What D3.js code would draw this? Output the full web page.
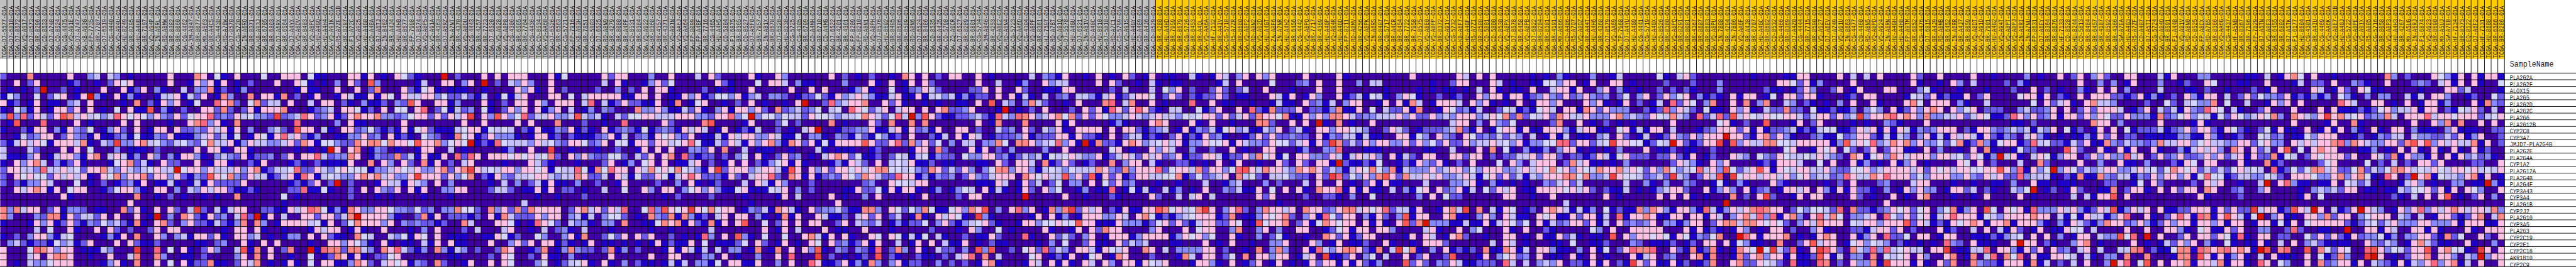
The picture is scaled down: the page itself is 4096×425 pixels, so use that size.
<!DOCTYPE html>
<html><head><meta charset="utf-8">
<script src="https://cdn.jsdelivr.net/npm/d3@7"></script>
<style>html,body{margin:0;padding:0;background:#fff;overflow:hidden}svg{display:block}</style>
</head><body><div id="chart"></div>
<script>
const geneNames=["PLA2G2A","PLA2G2F","ALOX15","PLA2G5","PLA2G2D","PLA2G2C","PLA2G6","PLA2G12B","CYP2C8","CYP3A7","JMJD7-PLA2G4B","PLA2G2E","PLA2G4A","CYP1A2","PLA2G12A","PLA2G4B","PLA2G4F","CYP3A43","CYP3A4","PLA2G1B","CYP2J2","PLA2G10","CYP3A5","PLA2G3","CYP2C19","CYP2E1","CYP2C18","AKR1B10","CYP2C9"];
const samplesA=["D7-5577","D7-6818","D7-8572","VQ-A917","D7-8573","BR-8296","CD-8533","D7-A748","CD-8524","CG-4475","VQ-A91E","D7-A747","KB-A93G","FP-7735","BR-7707","D7-6519","CG-4440","VQ-A94U","HU-8249","BR-8295","HU-A4HB","BR-7197","VQ-A94P","IN-A6RL","RD-A8MW"];
const samplesB=["BR-8382","BR-8060","CG-4462","3M-AB47","BR-8077","MX-A663","BR-A4CS","CG-4438","RD-A7BW","D7-8570","CG-5720","IN-A6RO","BR-8371","KB-A93J","BR-6705","BR-6803","D7-A6RX","BR-6564","D7-A4YX","VQ-A8DV","BR-8483","VQ-A8PC","HU-A4GQ","HU-A4H4","VQ-A91K","R5-A7ZE-01B","BR-8297","F1-A72C","VQ-A925","HU-A4G8","CD-A48A","B7-A5TJ","IN-8462","BR-A4J4","HU-A4H0","BR-8677","FP-7998","D7-8574","VQ-A8P5","VQ-A91A","BR-4363","D7-A6RZ","IN-A7NT","BR-4370","VQ-A8DU","CG-4443","BR-4257","BR-7723","D7-6520","VQ-A928"];
const samplesC=["VQ-A8P8","CG-4306","BR-6565","BR-7704","CG-4436","CD-8534","VQ-AA68","D7-6526","BR-6563","CG-5721","FP-7916","KB-A93H","BR-7851","CD-5803","D7-6525","RD-A8N9","BR-4279","BR-8080","BR-A4PF","CD-8531","BR-8384","VQ-A922","BR-8368","BR-4357","BR-4371","VQ-A91N","VQ-AA6J","VQ-AA64","FP-8099","FP-A4BF","BR-7716","CG-4465","HU-A4H5","CD-5804","F1-6875","BR-8365","CD-8527","D7-A6F0","BR-7957","IN-AB1X","BR-8678","D7-6528","HU-8238","CG-5725","CG-4305","BR-6709","CD-A4MH","BR-6710","CD-A4MG","D7-6522"];
const samplesD=["BR-4201","BR-4361","FP-8209","FP-8210","RD-A8N1","VQ-A8PH","D7-8576","HU-8602","BR-8485","BR-8686","BR-8589","RD-A8N6","D7-6524","BR-8486","CD-8535","BR-A4J5","CD-5798","ZQ-A9CR","D7-6527","BR-8289","BR-6801","CG-5734","3M-AB46","BR-4253","VQ-A8E2","RD-A8N4","CG-5723","VQ-AA6D","CG-4304","VQ-A8PF","BR-8361","HJ-7597","RD-A7BT","VQ-A91Q","D7-5578","HU-A4GU","D7-6521","IN-AB1V","CD-A48C","HU-8610","B7-5818","RD-A7C1","CD-5799","VQ-A91S","HU-A4GY","CD-A489","BR-A4J6","CD-8529","BR-4280","HU-A4HD"];
const samplesE=["BR-7959","BR-8679","CG-5726","BR-6453","BR-A4QL","VQ-AA6A","HF-7132","BR-A4IV","CG-5718","R5-A7ZR","BR-8680","VQ-A8P2","RD-A8N2","VQ-A92D","HU-A4GT","ZA-A8F6","IN-A7NR","HU-A4H2","BR-6456","CG-4442","VQ-A8PO","BR-7717","BR-4369","HU-A4GP","VQ-A94R","HU-A4GD","FP-8211","RD-A8MV","BR-4256","VQ-A8PK","IN-A6RS","BR-8487","CG-5717","BR-A4CR","BR-6454","BR-7722","BR-7958","D7-8575","VQ-A8E0","VQ-A8PP","BR-8372","VQ-A91Y","CG-5732","KB-A6F7","HU-A4GF","R5-A7ZI","BR-8588","CD-5801","CD-5800","CD-8530"];
const samplesF=["VQ-A8PX","D7-8578","BR-6458","VQ-A8PB","D7-6822","BR-8284","BR-8381","BR-4191","MX-A666","CD-A486","R5-A7O7","VQ-A8DZ","BR-A44T","HU-A4H6","BR-4368","D7-8579","VQ-AA69","TP-7968","D7-A4YU","HU-A4G9","CG-4441","CG-5719","HU-A4GX","CD-8526","BR-8380","VQ-A8PQ","BR-8291","BR-8081","BR-4367","BR-8687","BR-8683","VQ-A8PU","IN-7808","BR-4294","IN-7806","VQ-AA6F","BR-A4J8","BR-6707","HU-A4GC","BR-8682","CD-8532","CG-4466","BR-8369","D7-A4Z0","CG-4444","BR-7715","BR-8590","VQ-A927","D7-A6EV","D7-A749"];
const samplesG=["VQ-A91U","IN-8663","CG-4477","CG-4460","RD-A8N5","VQ-A8PD","VQ-A924","IN-A6RN","HU-A4GH","HU-A4H8","FP-A9TM","BR-6852","CG-4476","D7-6815","BR-A4J9","RD-A8MB","BR-6452","IN-A6RR","BR-A4J7","BR-8059","VQ-A8DT","VQ-A91D","BR-7901","HU-A4G2","VQ-A94T","VQ-A8PT","VQ-A8PJ","IN-A6RI","IN-A7NU","FP-8631","D7-A6EY","BR-8364","BR-8676","HF-7133","CD-8528","HU-8244","CD-5813","BR-8484","BR-6457","BR-4187","BR-8592","BR-4366","SW-A7EA","HU-A4G3","R5-A7ZF","CD-A487","B7-A5TI","CG-5724","VQ-A94O","BR-8591"];
const samplesH=["F1-A448","VQ-A91V","RD-A8N0","CD-8525","FP-A8CX","RD-A7BS","BR-8366","VQ-AA6G","CG-4437","HF-A5NB","BR-8367","BR-7196","FP-7829","B7-A5TN","VQ-A8E3","BR-6455","BR-6802","B7-A5TK","F1-6177","HU-8604","CG-4301","BR-A4IU","CG-4469","VQ-AA6K","VQ-A8E7-01B","HU-A4GJ","CG-5722","VQ-A8PE","VQ-A91X","R5-A805","CG-5716","BR-8058","VQ-A8P3","HU-A4H3","BR-4267","MX-A5UG","IN-A6RJ","F1-6874","VQ-A923","BR-8690","MX-A5UJ","SW-A7EB","HF-7134","BR-8373","EQ-8122","D7-A6F2","HF-7131","HU-8608","BR-6566","BR-8286"];

// one string per gene; each character is a colour level (0 lowest ... b highest)
const panelA=["2000700000 6003404301 00000","0060260000 1200102656 00000","010102b002 0100060061 26031","1530050256 016b310613 10014","6120160110 3406000010 70216","1053160166 2606010506 11903","3938264269 7464534865 65363","0190008000 0601000060 60000","1002166031 6325013620 60166","0014236602 6321611231 51132","2146465166 6471043a33 67453","4000420006 0605000301 11020","4111360146 6316704641 30630","1063674031 2610001567 24106","2664438446 4526674364 34564","2065655264 6461065736 67266","2021336400 0501020123 16011","0064676160 5660012566 31066","0000000006 1000000000 70010","0000000000 0000000006 00000","7374660261 3320110072 61060","7300032771 6244260600 601b0","1000163612 6213253421 71067","0000040500 6100606202 00260","1020366314 5000013160 70063","0342122153 4126000606 21120","6000587636 6011143000 a0080","6000460677 6001006004 70073","6010433566 6000013610 70060"];
const panelB=["6000760510 6000500666 0511000661 6010652100 0b02000606","6001636160 1020006006 5101030620 9300000140 0660360b02","0040337120 1300000001 6110060060 2700062156 1011100100","4614260173 0070661702 0160016411 6165064466 3522421401","3601500867 2057244060 0406602103 1120329600 6613000610","1020066272 0261666700 0123406651 2060550680 2514230510","2625668232 645332a234 8623612676 6733235662 62646a0639","1006783610 7000000008 0000030611 0000060000 0000600600","0622326461 6030034209 6604106623 5212161562 1114566154","6111346241 5016516846 2130011336 2306121053 2017561263","2453257446 1364433462 7615532276 7757665966 73565b1218","0000606610 6610000001 0101b60670 1320100166 0040100000","3166310343 2612230260 6684233760 1322724161 1608286066","2200601661 0021600012 1021111600 7063062071 6020460000","4b56636444 6367124458 2264356555 1334654633 67267a6454","3621329657 3264412461 8614543367 6746336a66 6263570216","4101416222 2600000012 12602b0200 0164416430 6030000010","0304364662 1121000022 8115100206 0632606160 0336600024","2010010100 7000000501 0000000200 0101000010 0010000000","0000000000 0000000100 0000000000 0000000000 0000000000","6204a20414 6600221164 6875131763 3665332523 0337552073","3076216230 482b160400 66266247b6 6663100271 6022212061","2036221421 3707301666 6451602576 6636032322 1200740006","6600000010 6606100100 0164660161 0060001030 6000204000","0341662610 6634010133 0606211075 4004351650 6011100116","0000110230 0610606000 0100663653 1061011041 6061100060","5061026300 4917060270 0b18772774 3076842130 7314302002","0011020000 3607060010 0501276161 0225600000 0011000020","5061227110 2647010161 0506611376 2046561320 7200160060"];
const panelC=["0666000615 0000062660 0030060004 0620000610 0630000006","0436300600 0000040610 0136250000 0062100050 6640311000","0063610602 0000200302 0606610000 2010100600 0006006060","5146000660 5046666611 6606011636 1255361340 3320122521","2066063066 6048041262 2116017015 6001020601 00106b0028","2636061360 4013032000 7336311426 1036166362 0723423504","6358244633 4943410425 5664446663 3266835b35 5354426554","0060600070 0020010080 0000620000 7900001600 0250200007","5402161132 6121061232 1512321646 4016012140 0201046b00","3310166120 2111236140 2316563260 1141646633 6411503310","5444364532 6652360551 6626645685 1142641636 7317626151","1300600a00 1000100200 1606060033 2607004011 1001000410","6565645720 6363225520 4260670821 2202035061 0262301046","1000642100 0100026013 0560601146 0201606021 3561610001","6636656154 4851758660 6475657543 16a2666346 6419606362","3244566434 4762240641 5226514686 2221620466 8207616123","4030241611 0300200160 0002003061 0120004064 1630002000","4201161602 2010040050 0630660356 3631156111 5460302000","0000010010 0020000000 0000102000 0200001000 0160400006","0004000000 0000000000 0000000000 0000000100 0000000000","6272766660 2674626480 05839656a6 5756601324 1764106233","7422263660 3414035520 1073271731 2046066031 0171600641","6510186520 4331033070 0115767162 1716069005 0260606600","4600104023 1040001000 0010010000 0400000006 0160400060","5120053003 6170025260 6260020101 8306093105 0050067416","0362606612 1016011010 1016121160 5011125062 0160106506","7600127013 7322027130 2000161641 4040330170 1706063910","6500206110 3010006000 0060066000 3306010030 0608000a02","6500035012 4561061030 2110141403 3150661160 0306008611"];
const panelD=["0201020010 7606020660 0601000004 0321600106 0106201601","0300061060 1606200000 0600400130 0634400006 0620010410","0013610050 1236420000 2260600620 0111660000 0204000405","6346431146 1161453413 1220606141 0402304431 4612466502","3466700626 1001010011 0609043037 4200106000 7804700601","5086524604 6606067223 60001b0102 0600020626 1862686210","3445764258 4b39621122 3421843876 3467572626 5334643464","0100062070 0707000000 0601700070 0006160000 0131000676","1223361146 1623160066 0200423062 0436106666 0606621234","3214215312 0600214061 6401222361 2226616221 0602441210","6666962268 2736250304 4033750776 3458361b17 2216763456","1110012000 0166072000 6160203000 0300600000 0560100636","7625112025 4145132205 3366231243 4154564336 1246426462","3164206045 4611201100 0110620664 0712620120 0703660410","6656467755 4532762426 3035773663 1454354447 6327366682","2653764228 6613132302 6324666076 5644936291 6261266445","0000230065 5466000000 0111640162 4025033060 5262300010","0116225161 6610130135 4061410162 0635001301 1801514104","0100306000 0106000020 66000000b0 0000600100 0210000620","6000000000 0000000000 0000000000 0000000000 0000000000","4211773065 2537511563 7690306836 01737a2646 0216116697","1204626024 0171064651 0a31000001 6061301666 3364067512","2604324013 1225036213 4562100166 3556559661 1163331256","1100600010 0000200010 6300501000 0610016062 7660000360","0610065065 1415041002 0116200081 0062420360 1666136666","2312616004 0160604116 0102110000 1030500261 1062434000","3203218027 3061042203 0939002056 2824306641 6546007604","0101209021 0021102046 8070400005 6012160156 0176000200","2613173036 1220030202 0167100016 4061610640 6306616546"];
const panelE=["1004101640 3606360000 6000061000 0000006000 0006406060","1100000140 6000050002 3060060030 4400000001 0026600064","3602002620 2400600010 0060060000 0010000101 0110104061","6202122620 1100064160 1630061241 5410365100 2012006366","0008006011 0010014110 6231403660 0160617401 6664063610","4400512600 6082172226 0221371160 5042261700 1652314002","4354566262 4627665711 6363776423 3444636226 3436663465","0006106001 0007720060 60b1070100 6000000000 0046603063","0161324156 3411436024 1066366543 0026420122 2347216015","2612162310 0126262232 2061324414 1100661530 6320652324","4613365561 6433265524 6162a72426 3663362635 2622634464","4003002006 0100660001 3003380001 1100000011 0040006070","3612266412 2637561506 6332641464 6306142066 0066266020","0221010601 6001006206 20661b2112 1500121632 6102060005","5664726635 8964766437 6762431465 7537143336 3466353666","5712523460 7452044532 2062a82536 3796274464 6334641562","0100040013 4000302000 4060060102 6161100040 0033461031","1301060032 4116050606 1076681616 1104031560 6236140526","0404604000 0006260000 2002210300 5000000306 0522000000","0000000000 0000001000 0000000000 0000000000 0000000000","56457a6036 8203766460 7662367746 5682441600 1674a07041","1345666127 0113656720 3618526603 1620391660 0671103630","2621466226 5019566702 6157656606 16106927b3 3311411614","0060566003 7003603006 6001256166 0663000046 1006035000","1365635006 1003025100 1007626126 6000016064 0167200100","1100060106 0010033600 0630160112 0061001066 6200000040","0333366020 0107037300 6184367762 1704a57103 0612120711","0174066025 0706636601 460a112603 5040060260 0290001603","0001663106 0126016010 1626616162 1300092620 3264112220"];
const panelF=["0000101031 0003001400 0005104620 0000000100 0011660000","0100115536 6016006601 0000200020 0030000000 0665261300","0110600466 1600360310 1002020210 0030000002 1101263002","1661236326 2363230250 3602635603 1210616601 5066266100","1060166360 0063610160 2014082650 3700607037 0043021010","5412156406 6176263330 0212836420 5110636104 2272205112","7272546276 4463336734 3265474308 2482946546 5566424662","2500000270 0601020101 0000060000 0056102009 0001602600","6616116663 1466110561 4166040001 2366626161 2234121455","2430401614 0110340620 1401263263 666b662167 2631002311","5361335588 266245a665 51254b6212 66a0936447 7554666661","5103113036 6101010300 0601120110 0200000000 0056001656","2244626620 2212641562 2202262160 1200643053 2654454643","0630466602 7461101030 0000026431 0636000012 1666400506","3346465756 3654766746 5263753458 4639524696 1654664463","6241436667 757334a655 42342a4302 6490a56646 6463563442","0101003246 2400000040 0310300320 0151031000 6210000010","4601166665 6462021140 1013466200 6136306123 0166460631","6600100600 0000060100 0006060610 100070206a 2001606600","0000000004 0000000000 0000000000 000b000000 0000000000","6501206764 1413051211 7376316631 8413646787 6602535542","6411065611 6266140816 6761166066 1640367483 8167306847","6525061423 6626140623 2360331366 0267747765 6520364766","6106002100 0005306006 6666000616 1210163010 6602003610","6601061162 4101109063 6656516513 25700b8616 6670101676","6401000110 5001120003 2011120120 6606153110 0700269466","7614066311 0306150268 7780062171 27101765b5 a428106a86","5623060110 6106010006 1460230067 1700172673 6616112961","8404034360 221616021a 6261161201 2700672265 4208110870"];
const panelG=["6040406000 0620060000 6001000030 1006026036 2006600041","0060000000 0610010630 4000020310 0000006003 0301600030","6016000660 0035100010 0010002006 0201003106 0603000040","0120660000 1542612116 0260000566 1602106066 6221261310","3060061000 6750666031 0040000005 0624610674 4300002005","1130353061 2636760635 6022200342 2360602626 6640126042","634a366786 7637334462 4651128636 2361662636 5226333172","0010100321 0006000000 0000001102 0000000076 6030000060","1126461616 4132366602 1663234341 4360512016 0605122241","5236621414 3036141646 4162132046 3101011316 2602201111","3946583476 7363352571 2731566128 4522142611 7324332374","0520260266 1106030010 6071001522 0000962006 1061600610","2076156376 4666366452 6513b46104 6513660263 6338460262","0061301061 3601000065 0602000400 7200006003 0061103000","2255634666 6462656466 5566963816 35b3652434 6633464525","3864476866 6353666336 3264622834 4410217117 3244132636","2060002300 0466000100 1001103006 1101110000 2200150620","6162210301 6363301662 402100435b 0120162001 1702661060","0062010060 1067000100 1060000601 0000040416 6906000000","0000000600 0000000000 0000000000 0000000000 0000000000","8072212365 6256035713 6095065618 3336463126 4913646061","5033460853 6256146866 6154366667 6604151644 1368006102","6054663666 9264121656 7616671666 3103164213 7662363126","0022146626 0200061200 4060416201 6011655040 0006006006","0061360822 5066016600 1112134506 0603016604 339580b060","0156354302 1010108320 6111006b66 0210036701 0000601014","2074383845 644066a011 4480663162 6062304604 0044780211","4033070545 6063006701 7048075806 1166540410 3307007000","2063371a66 6161062700 7322166617 1402040600 3b68059060"];
const panelH=["6000330000 0110401675 0600100000 0073020006 5316061661","0120065000 1100600014 0220600321 0060002320 4616061005","0011020010 0020160000 0640162065 1100000100 0662400001","2063166040 2625332612 1313053103 0330041406 6300120052","2045337050 0400163606 0000086400 6601060166 1300061732","4163286504 1002600060 0060611121 2563446166 0215462040","3563541526 5346573076 436a674562 3374066684 6656662456","0001610000 0000000060 0001600710 0000006006 3707006060","2362662165 2102516110 6016160310 6106603111 0361110022","1331163101 2005423011 5366600120 1324404332 2426136002","4663564433 6625633064 6466783764 3366279693 6464471602","0314646307 6062406905 0676600011 3010606106 1061061200","3622363624 6162271540 2656662600 6427163316 0616342310","2165066000 6100712000 0025600005 0204020662 6000022006","7656242425 6454081252 5774622572 4357764546 5466564546","6361585512 4433542066 6533673675 108602b671 5443671601","0002064600 1004b06831 1011605424 0100146301 0033011b31","6266076002 3003600001 0343426601 1011435562 6160653006","0000610000 2000000001 6050000000 0002104060 6901026030","0000000000 0000000000 0000000000 0000000000 0000000000","1226661626 22a4661296 4b604126b6 4301636836 4676466473","6861871696 415b036110 6637266035 6660430401 6621267047","3661663616 6016615160 5666662124 5246333663 3361666116","6310561162 6003300282 001100b006 6164006616 1000610666","0260662651 8106602200 5262621623 3513033662 1725006206","2636031051 0116104060 3421111006 3243016742 1100610030","5771876786 761b907800 9075265008 9635426690 675510a606","1770961613 6104061110 605127300a b601026670 663043b366","6671664716 6108605300 6072366160 4321614368 3671406006"];

const levels=["0","1","2","3","4","5","6","7","8","9","a","b"];
const levelColors=["#4000a8","#2000cc","#6a58ee","#8888ff","#c6c0ff","#d6d6ff","#ffc0e6","#ff8888","#ff6680","#ff5555","#ee4040","#dd1100"];
const groupBoundary=173;
const bandColors=["#c0c0c0","#ffcc00"];

const panels=[panelA,panelB,panelC,panelD,panelE,panelF,panelG,panelH];
const sampleSets=[samplesA,samplesB,samplesC,samplesD,samplesE,samplesF,samplesG,samplesH];
const samples=sampleSets.flat();
const matrix=geneNames.map((g,r)=>panels.map(p=>p[r].replace(/ /g,"")).join(""));

const W=4096,H=425,k=W/4629;
const color=d3.scaleOrdinal(levels,levelColors);
const x=d3.scaleBand().domain(d3.range(samples.length)).range([0.5*k,4500.5*k]);
const y=d3.scaleBand().domain(geneNames).range([131.5*k,479.5*k]);
const svg=d3.select("#chart").append("svg").attr("width",W).attr("height",H);

svg.append("rect").attr("width",W).attr("height",H).attr("fill","#fff");
svg.append("g").selectAll("rect").data(samples).join("rect")
  .attr("x",(d,i)=>x(i)-0.5*k).attr("y",0).attr("width",x.bandwidth()+0.5).attr("height",106*k)
  .attr("fill",(d,i)=>bandColors[i<groupBoundary?0:1]);

const cells=matrix.flatMap((s,r)=>Array.from(s,(v,c)=>({r,c,v})));
svg.append("g").selectAll("rect").data(cells).join("rect")
  .attr("x",d=>x(d.c)).attr("y",d=>y(geneNames[d.r]))
  .attr("width",x.bandwidth()).attr("height",y.bandwidth())
  .attr("fill",d=>color(d.v));

const font="'Liberation Mono',monospace";
const smallSize=9.78*k, tall=1.23;
svg.append("g").selectAll("text").data(samples).join("text")
  .attr("transform",(d,i)=>`translate(${x(i)+x.bandwidth()-1*k},${104.5*k}) rotate(-90) scale(1,${tall})`)
  .attr("font-family",font).attr("font-size",smallSize).attr("fill","#222")
  .text(d=>"TCGA-"+d+(d.split("-").length>2?"":"-01A"));

svg.append("g").selectAll("text").data(geneNames).join("text")
  .attr("transform",d=>`translate(${4510*k},${y(d)+y.bandwidth()+0.3*k}) scale(1,${tall})`)
  .attr("font-family",font).attr("font-size",smallSize).attr("fill","#222")
  .text(d=>d);
svg.append("text").attr("transform",`translate(${4510*k},${119.5*k}) scale(1,1.17)`)
  .attr("font-family",font).attr("font-size",13.17*k).attr("fill","#222").text("SampleName");

const bounds=x.domain().map(i=>x(i)+x.bandwidth());
svg.append("g").selectAll("line").data(bounds).join("line")
  .attr("x1",d=>d).attr("x2",d=>d).attr("y1",0).attr("y2",480*k)
  .attr("stroke","#000").attr("stroke-width",k);
const rowLines=[y.range()[0]].concat(geneNames.map(g=>y(g)+y.bandwidth()));
svg.append("g").selectAll("line").data(rowLines).join("line")
  .attr("x1",0).attr("x2",W).attr("y1",d=>d).attr("y2",d=>d)
  .attr("stroke","#000").attr("stroke-width",k);
</script></body></html>
